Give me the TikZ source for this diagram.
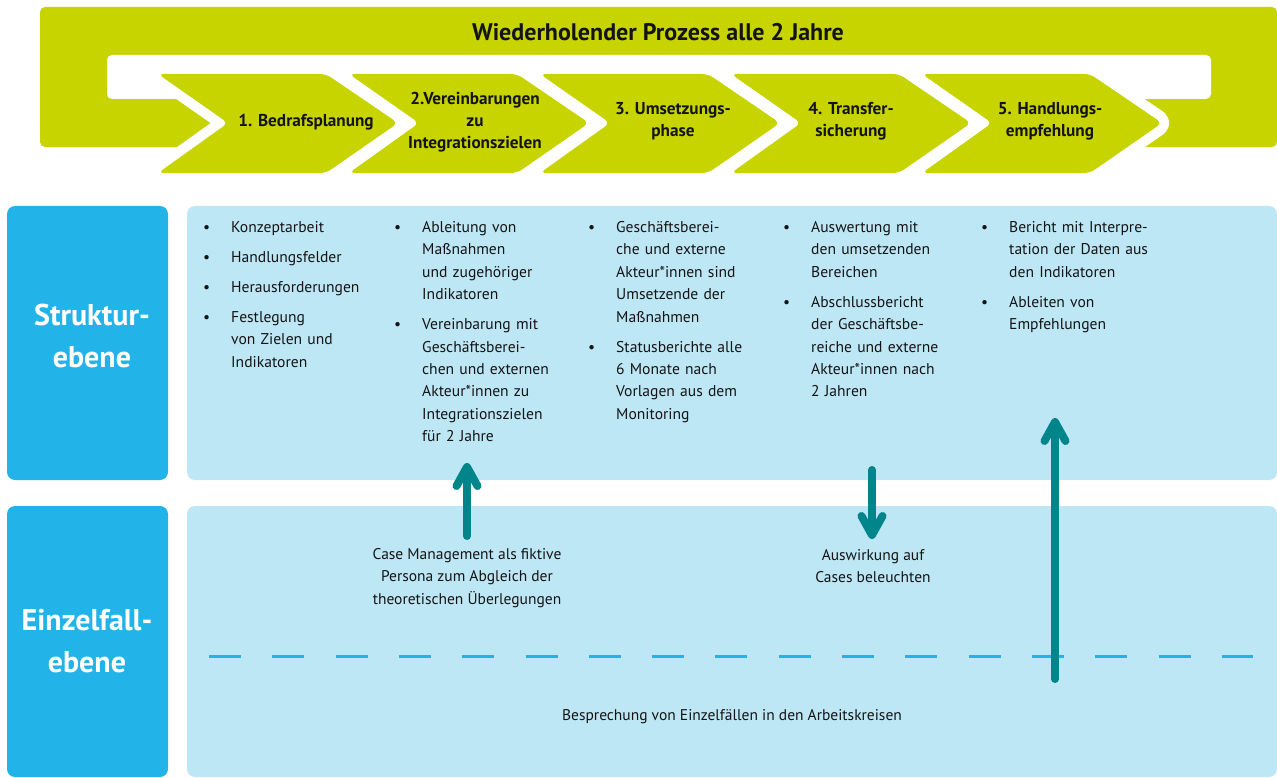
\documentclass[tikz,border=0pt]{standalone}
\usepackage{fontspec}
\setmainfont{PT Sans}
\usetikzlibrary{arrows.meta}
\definecolor{lime}{RGB}{200,212,0}
\definecolor{cyanbox}{RGB}{34,180,232}
\definecolor{lightbox}{RGB}{190,231,246}
\definecolor{tealc}{RGB}{0,133,139}
\definecolor{ink}{RGB}{20,20,20}
\newcommand\bul[1]{\par\hangindent=28pt\hangafter=1\noindent\hbox to 28pt{\textbullet\hfil}#1\par\vspace{7.6pt}}
\newcommand\nl{\newline}
\tikzset{
  chevfill/.style={fill=lime, rounded corners=6pt},
  chevcut/.style={draw=white, line width=20pt, rounded corners=6pt, line join=round},
  chevlabel/.style={font=\bfseries\fontsize{17.2}{22}\selectfont, align=center, text=ink, inner sep=0pt},
  title/.style={font=\bfseries\fontsize{24}{28}\selectfont, text=ink, inner sep=0pt},
  levelbox/.style={fill=cyanbox, rounded corners=8pt},
  contentbox/.style={fill=lightbox, rounded corners=8pt},
  levellabel/.style={font=\bfseries\fontsize{30}{42}\selectfont, text=white, align=center, inner sep=0pt},
  col/.style={font=\fontsize{15.6}{22.4}\selectfont, text=ink, text width=190pt, align=left, inner sep=0pt, anchor=north west},
  bodytext/.style={font=\fontsize{15.5}{22.4}\selectfont, text=ink, align=center, inner sep=0pt},
  tarrow/.style={draw=tealc, line width=8pt, line cap=round, -{Straight Barb[length=19pt, width=21pt, round]}},
  dashc/.style={draw=cyanbox, line width=3pt, dash pattern=on 32pt off 31.3pt}
}
\begin{document}
\begin{tikzpicture}[x=1pt,y=-1pt]
\useasboundingbox (0,0) rectangle (1277,778);
% banner
\fill[lime, rounded corners=5pt] (40,7) -- (1277,7) -- (1277,147) -- (1120,147) -- (1120,99) -- (240,99) -- (240,147) -- (40,147) -- cycle;
\fill[white, rounded corners=5pt] (107,55) rectangle (1211,99);
\node[title] (title) at (658,32) {Wiederholender Prozess alle 2 Jahre};
% chevrons
\foreach \L in {158,349,540,731,922}{
  \path[chevcut] (\L,74) -- (\L+168,74) -- (\L+240,123) -- (\L+168,173) -- (\L,173) -- (\L+70,123) -- cycle;
  \fill[chevfill] (\L,74) -- (\L+168,74) -- (\L+240,123) -- (\L+168,173) -- (\L,173) -- (\L+70,123) -- cycle;
}
\node[chevlabel] (c1) at (306,122) {1. Bedrafsplanung};
\node[chevlabel] (c2) at (475,122) {2.Vereinbarungen\\zu\\Integrationszielen};
\node[chevlabel] (c3) at (673,121) {3. Umsetzungs-\\phase};
\node[chevlabel] (c4) at (851,121) {4. Transfer-\\sicherung};
\node[chevlabel] (c5) at (1050,121) {5. Handlungs-\\empfehlung};
% boxes
\fill[levelbox] (7,206) rectangle (168,480);
\fill[levelbox] (7,506) rectangle (168,777);
\fill[contentbox] (187,206) rectangle (1277,480);
\fill[contentbox] (187,506) rectangle (1277,777);
\node[levellabel] (struktur) at (92,336) {Struktur-\\ebene};
\node[levellabel] (einzel) at (87,641) {Einzelfall-\\ebene};
% columns
\node[col] (k1) at (203,210) {\bul{Konzeptarbeit}\bul{Handlungsfelder}\bul{Herausforderungen}\bul{Festlegung\nl von Zielen und\nl Indikatoren}};
\node[col] (k2) at (394,210) {\bul{Ableitung von\nl Maßnahmen\nl und zugehöriger\nl Indikatoren}\bul{Vereinbarung mit\nl Geschäftsberei-\nl chen und externen\nl Akteur*innen zu\nl Integrationszielen\nl für 2 Jahre}};
\node[col] (k3) at (588,210) {\bul{Geschäftsberei-\nl che und externe\nl Akteur*innen sind\nl Umsetzende der\nl Maßnahmen}\bul{Statusberichte alle\nl 6 Monate nach\nl Vorlagen aus dem\nl Monitoring}};
\node[col] (k4) at (783,210) {\bul{Auswertung mit\nl den umsetzenden\nl Bereichen}\bul{Abschlussbericht\nl der Geschäftsbe-\nl reiche und externe\nl Akteur*innen nach\nl 2 Jahren}};
\node[col] (k5) at (981,210) {\bul{Bericht mit Interpre-\nl tation der Daten aus\nl den Indikatoren}\bul{Ableiten von\nl Empfehlungen}};
% lower texts
\node[bodytext] (cm) at (467,578) {Case Management als fiktive\\Persona zum Abgleich der\\theoretischen Überlegungen};
\node[bodytext] (aw) at (873,566) {Auswirkung auf\\Cases beleuchten};
\node[bodytext] (bs) at (732,717) {Besprechung von Einzelfällen in den Arbeitskreisen};
% dashed separator
\coordinate (dl) at (209,656);
\coordinate (dr) at (1253,656);
\draw[dashc] (dl) -- (dr);
% arrows
\coordinate (a1b) at (467,536);
\coordinate (a1t) at (467,463);
\coordinate (a2t) at (872,470);
\coordinate (a2b) at (872,539);
\coordinate (a3b) at (1055,679);
\coordinate (a3t) at (1055,418);
\draw[tarrow] (a1b) -- (a1t);
\draw[tarrow] (a2t) -- (a2b);
\draw[tarrow] (a3b) -- (a3t);
\end{tikzpicture}
\end{document}
